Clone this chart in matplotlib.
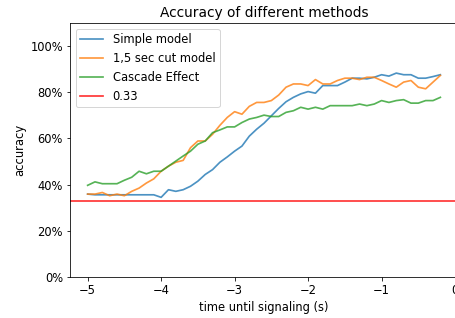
import numpy as np
import matplotlib
matplotlib.use("Agg")
import matplotlib.pyplot as plt
from matplotlib.ticker import PercentFormatter

# time steps before the signal
times = np.round(np.arange(-5.0, -0.15, 0.1), 1)

simple = [35.9, 35.6, 35.6, 35.6, 35.6, 35.6, 35.6, 35.6, 35.6, 35.6,
          34.5, 37.8, 37.1, 37.8, 39.3, 41.5, 44.4, 46.5, 49.7, 52.0,
          54.5, 56.7, 61.0, 64.0, 66.6, 69.8, 73.0, 75.9, 77.8, 79.3,
          80.3, 79.6, 82.9, 82.9, 82.9, 84.4, 86.1, 86.1, 85.8, 86.5,
          87.6, 87.0, 88.3, 87.6, 87.6, 86.1, 86.1, 86.8, 87.6]
cut15 = [35.9, 35.9, 36.6, 35.2, 35.9, 35.2, 37.1, 38.5, 40.7, 42.5,
         45.8, 48.0, 49.7, 50.5, 56.0, 58.9, 58.9, 61.8, 65.7, 69.1,
         71.6, 70.5, 73.9, 75.6, 75.6, 76.4, 78.8, 82.2, 83.6, 83.6,
         82.9, 85.5, 83.6, 83.6, 85.1, 86.1, 86.1, 85.5, 86.5, 86.5,
         85.1, 83.6, 82.2, 84.4, 85.1, 82.2, 81.5, 84.4, 87.3]
cascade = [39.7, 41.2, 40.4, 40.4, 40.4, 41.9, 43.2, 45.8, 44.7, 45.8,
           45.8, 48.0, 50.2, 52.4, 54.5, 57.5, 58.9, 62.5, 63.7, 65.0,
           65.0, 66.9, 68.4, 69.1, 70.1, 69.5, 69.5, 71.3, 72.0, 73.5,
           72.7, 73.5, 72.7, 74.2, 74.2, 74.2, 74.2, 74.9, 74.2, 74.9,
           76.4, 75.6, 76.4, 76.8, 75.3, 75.3, 76.4, 76.4, 77.8]
chance = 0.33

plt.rcParams["font.size"] = 11.5
plt.rcParams["lines.linewidth"] = 1.7

fig = plt.figure(figsize=(455 / 72, 318 / 72), dpi=72)
ax = fig.add_axes([70 / 455, 41 / 318, 388 / 455, 254 / 318])

ax.plot(times, np.array(simple) / 100, alpha=0.8, label="Simple model")
ax.plot(times, np.array(cut15) / 100, alpha=0.8, label="1,5 sec cut model")
ax.plot(times, np.array(cascade) / 100, alpha=0.8, label="Cascade Effect")
ax.axhline(chance, color="red", alpha=0.8, label="0.33")

ax.set_ylim(0, 1.1)
ax.set_yticks([0, 0.2, 0.4, 0.6, 0.8, 1.0])
ax.yaxis.set_major_formatter(PercentFormatter(1.0, decimals=0))
ax.set_xticks([-5, -4, -3, -2, -1, 0])
ax.tick_params(labelsize=11.5)
ax.set_title("Accuracy of different methods")
ax.set_xlabel("time until signaling (s)", fontsize=11.5)
ax.set_ylabel("accuracy", fontsize=11.5)
ax.legend(loc="upper left", fontsize=11.5)

fig.savefig("out.png", dpi=72)
